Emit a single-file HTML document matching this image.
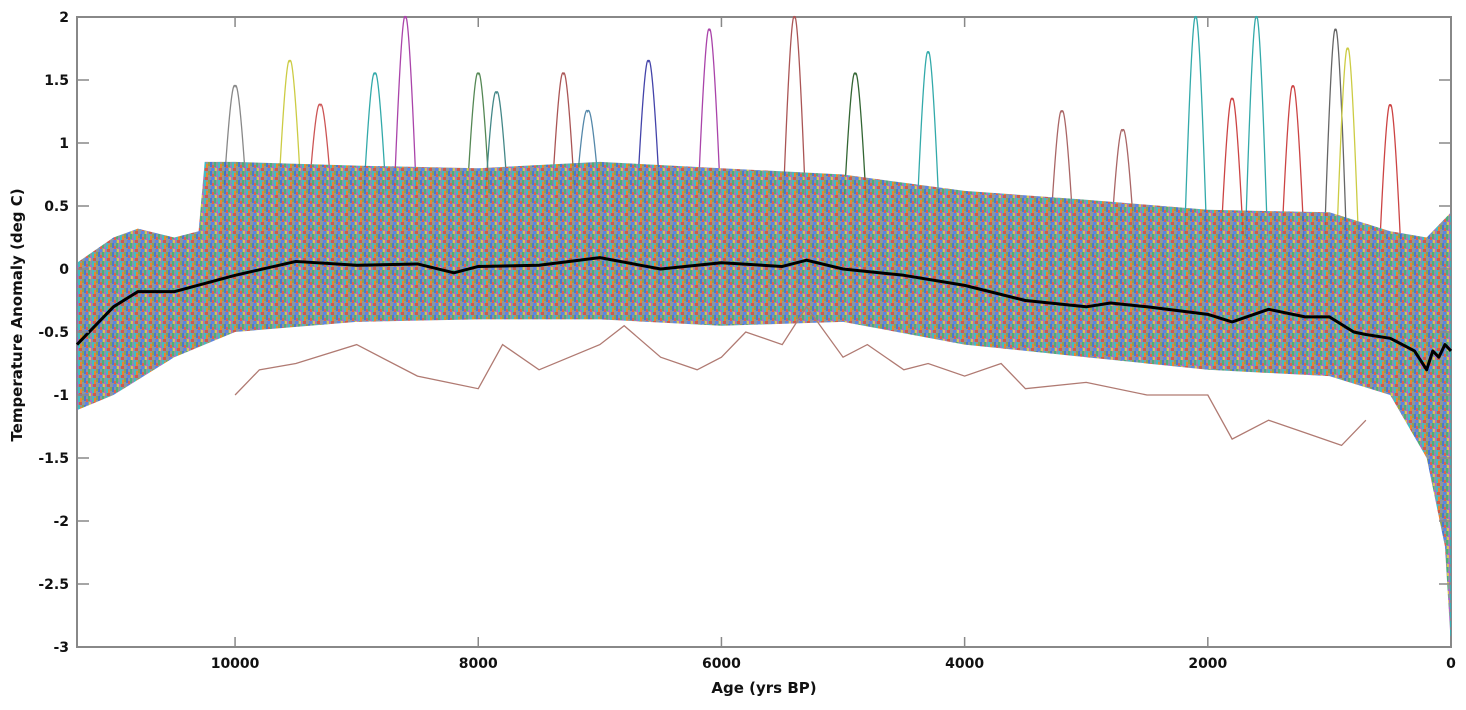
<!DOCTYPE html>
<html><head><meta charset="utf-8"><style>
html,body{margin:0;padding:0;background:#fff;}
svg{display:block;}
text{font-family:"DejaVu Sans","Liberation Sans",sans-serif;font-weight:bold;fill:#111;}
</style></head><body>
<svg id="chart" width="1466" height="710">
<defs>
<pattern id="mix" width="14" height="9" patternUnits="userSpaceOnUse">
<rect width="14" height="9" fill="#7e8c96"/>
<rect x="0" y="0" width="2" height="5" fill="#3566d0"/>
<rect x="2" y="3" width="2" height="6" fill="#d8503e"/>
<rect x="4" y="0" width="2" height="5" fill="#3aa56a"/>
<rect x="6" y="4" width="2" height="5" fill="#a25cc4"/>
<rect x="8" y="0" width="2" height="6" fill="#2cb5bd"/>
<rect x="10" y="2" width="2" height="6" fill="#e8771c"/>
<rect x="12" y="0" width="2" height="4" fill="#7f9a3a"/>
<rect x="1" y="6" width="3" height="3" fill="#4a78e0"/>
<rect x="9" y="6" width="3" height="3" fill="#c8493a"/>
<rect x="5" y="6" width="2" height="3" fill="#d0c040"/>
</pattern>
</defs>
<g id="plot"></g>
</svg>
<script>
const ageTicks=[10000,8000,6000,4000,2000,0];
const yTicks=[2,1.5,1,0.5,0,-0.5,-1,-1.5,-2,-2.5,-3];
const upperAge=[11300,11000,10800,10500,10300,10250,10000,9000,8000,7000,6000,5000,4000,3000,2000,1000,500,200,0];
const upperVal=[0.05,0.25,0.32,0.25,0.3,0.85,0.85,0.82,0.8,0.85,0.8,0.75,0.62,0.55,0.47,0.45,0.3,0.25,0.45];
const lowerAge=[11300,11000,10500,10000,9000,8000,7000,6000,5000,4000,3000,2000,1000,500,200,50,0];
const lowerVal=[-1.12,-1.0,-0.7,-0.5,-0.42,-0.4,-0.4,-0.45,-0.42,-0.6,-0.7,-0.8,-0.85,-1.0,-1.5,-2.2,-3.0];
const meanAge=[11300,11000,10800,10500,10000,9500,9000,8500,8200,8000,7500,7000,6500,6000,5500,5300,5000,4500,4000,3500,3000,2800,2500,2000,1800,1500,1200,1000,800,700,500,300,200,150,100,50,0];
const meanVal=[-0.6,-0.3,-0.18,-0.18,-0.05,0.06,0.03,0.04,-0.03,0.02,0.03,0.09,0.0,0.05,0.02,0.07,0.0,-0.05,-0.13,-0.25,-0.3,-0.27,-0.3,-0.36,-0.42,-0.32,-0.38,-0.38,-0.5,-0.52,-0.55,-0.65,-0.8,-0.65,-0.7,-0.6,-0.65];
const outAge=[10000,9800,9500,9000,8500,8000,7800,7500,7000,6800,6500,6200,6000,5800,5500,5300,5000,4800,4500,4300,4000,3700,3500,3000,2500,2000,1800,1500,1200,900,700];
const outVal=[-1.0,-0.8,-0.75,-0.6,-0.85,-0.95,-0.6,-0.8,-0.6,-0.45,-0.7,-0.8,-0.7,-0.5,-0.6,-0.3,-0.7,-0.6,-0.8,-0.75,-0.85,-0.75,-0.95,-0.9,-1.0,-1.0,-1.35,-1.2,-1.3,-1.4,-1.2];
const spikeAge=[10000,9550,8850,8600,8000,7300,6600,6100,5400,4900,4300,2100,1800,1600,1300,950,850,500,9300,7850,7100,3200,2700];
const spikePeak=[1.45,1.65,1.55,2.0,1.55,1.55,1.65,1.9,2.0,1.55,1.72,2.0,1.35,2.0,1.45,1.9,1.75,1.3,1.3,1.4,1.25,1.25,1.1];
const spikeColor=["#888","#cc4","#3aa","#a4a","#585","#a55","#44a","#a4a","#a55","#363","#3aa","#3aa","#c44","#3aa","#c44","#666","#cc4","#c44","#c55","#488","#58a","#a66","#a66"];

const L=77,R=1451,T=17,B=647;
const xs=a=>R-(a/11300)*(R-L);
const ys=v=>T+(2-v)/5*(B-T);
const g=document.getElementById('plot');
const NS='http://www.w3.org/2000/svg';
function mk(tag,attrs,parent){const e=document.createElementNS(NS,tag);for(const k in attrs)e.setAttribute(k,attrs[k]);(parent||g).appendChild(e);return e;}
function interp(ax,av,a){for(let i=0;i<ax.length-1;i++){if(a<=ax[i]&&a>=ax[i+1]){const t=(ax[i]-a)/(ax[i]-ax[i+1]);return av[i]+t*(av[i+1]-av[i]);}}return av[av.length-1];}

const frame=mk('rect',{x:L,y:T,width:R-L,height:B-T,fill:'none',stroke:'#888','stroke-width':2});



spikeAge.forEach((a,i)=>{
  const base=interp(upperAge,upperVal,a);
  const p=mk('path',{d:`M${xs(a+90)},${ys(base-0.2)} Q${xs(a+30)},${ys(spikePeak[i]+0.08)} ${xs(a)},${ys(spikePeak[i])} Q${xs(a-30)},${ys(spikePeak[i]+0.08)} ${xs(a-90)},${ys(base-0.2)}`,fill:'none',stroke:spikeColor[i],'stroke-width':1.3});
  
  
});

let d='';
upperAge.forEach((a,i)=>{d+=(i?'L':'M')+xs(a)+','+ys(upperVal[i]);});
for(let i=lowerAge.length-1;i>=0;i--)d+='L'+xs(lowerAge[i])+','+ys(lowerVal[i]);
const band=mk('path',{d:d+'Z',fill:'url(#mix)',stroke:'none','fill-opacity':0.9});



const op=mk('polyline',{points:outAge.map((a,i)=>xs(a)+','+ys(outVal[i])).join(' '),fill:'none',stroke:'#b07a72','stroke-width':1.3});



const mp=mk('polyline',{points:meanAge.map((a,i)=>xs(a)+','+ys(meanVal[i])).join(' '),fill:'none',stroke:'#000','stroke-width':3,'stroke-linejoin':'round'});



ageTicks.forEach(a=>{
  const x=xs(a);
  const t1=mk('line',{x1:x,y1:B,x2:x,y2:B-10,stroke:'#888','stroke-width':1.5});
  
  
  mk('line',{x1:x,y1:T,x2:x,y2:T+10,stroke:'#888','stroke-width':1.5});
  const tx=mk('text',{x:x,y:B+21,'text-anchor':'middle','font-size':14});
  tx.textContent=a;
  
  
});
yTicks.forEach(v=>{
  const y=ys(v);
  const t1=mk('line',{x1:L,y1:y,x2:L+12,y2:y,stroke:'#888','stroke-width':1.5});
  
  
  mk('line',{x1:R,y1:y,x2:R-12,y2:y,stroke:'#888','stroke-width':1.5});
  const tx=mk('text',{x:L-8,y:y+5,'text-anchor':'end','font-size':14});
  tx.textContent=v;
  
  
});
const xt=mk('text',{x:(L+R)/2,y:B+46,'text-anchor':'middle','font-size':15});
xt.textContent='Age (yrs BP)';


const yt=mk('text',{x:0,y:0,'text-anchor':'middle','font-size':15,transform:`translate(22,${(T+B)/2-17}) rotate(-90)`});
yt.textContent='Temperature Anomaly (deg C)';


</script>
</body></html>
